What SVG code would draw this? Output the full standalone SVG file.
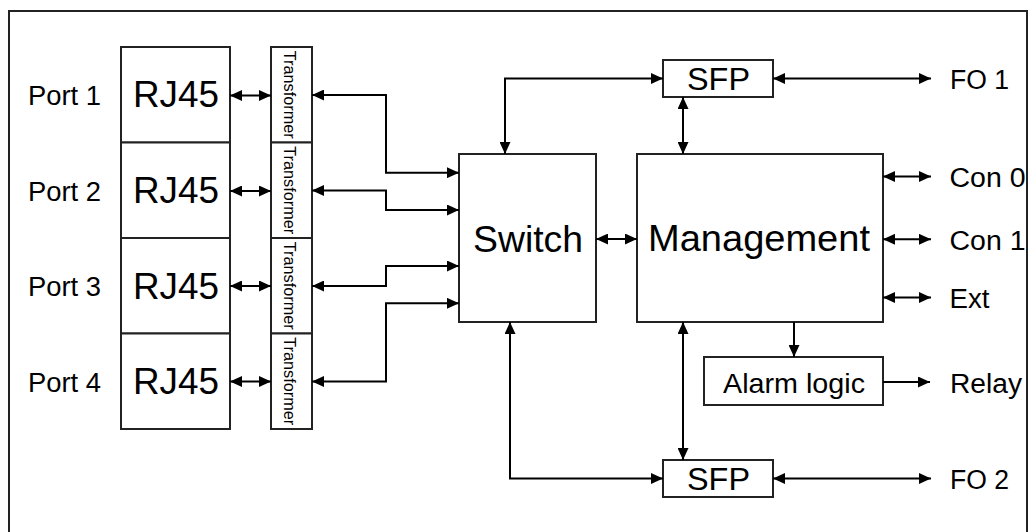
<svg xmlns="http://www.w3.org/2000/svg" width="1035" height="532" viewBox="0 0 1035 532">
<defs>
<marker id="ah" markerUnits="userSpaceOnUse" markerWidth="12" markerHeight="11" refX="12" refY="5.5" orient="auto-start-reverse" viewBox="0 0 12 11">
<path d="M0,0 L12,5.5 L0,11 z" fill="#000"/>
</marker>
<style>
.box{fill:#fff;stroke:#222;stroke-width:2}
.frame{fill:none;stroke:#222;stroke-width:2}
.t{font-family:"Liberation Sans",Arial,sans-serif;fill:#000}
.lbl{font-size:27px}
.big{font-size:36px}
.tr{font-size:16px}
.c{fill:none;stroke:#000;stroke-width:2}
.bi{marker-start:url(#ah);marker-end:url(#ah)}
.uni{marker-end:url(#ah)}
</style>
</defs>
<rect class="frame" x="9" y="11" width="1018" height="540"/>

<g id="port-labels">
<text class="t lbl" x="28" y="105" textLength="73" lengthAdjust="spacingAndGlyphs">Port 1</text>
<text class="t lbl" x="28" y="200.5" textLength="73" lengthAdjust="spacingAndGlyphs">Port 2</text>
<text class="t lbl" x="28" y="296" textLength="73" lengthAdjust="spacingAndGlyphs">Port 3</text>
<text class="t lbl" x="28" y="391.5" textLength="73" lengthAdjust="spacingAndGlyphs">Port 4</text>
</g>

<g id="rj45-1"><rect class="box" x="121" y="47" width="109" height="95.5"/><text class="t big" x="176" y="107" text-anchor="middle" textLength="86" lengthAdjust="spacingAndGlyphs">RJ45</text></g>
<g id="rj45-2"><rect class="box" x="121" y="142.5" width="109" height="95.5"/><text class="t big" x="176" y="203" text-anchor="middle" textLength="86" lengthAdjust="spacingAndGlyphs">RJ45</text></g>
<g id="rj45-3"><rect class="box" x="121" y="238" width="109" height="95.5"/><text class="t big" x="176" y="298.5" text-anchor="middle" textLength="86" lengthAdjust="spacingAndGlyphs">RJ45</text></g>
<g id="rj45-4"><rect class="box" x="121" y="333.5" width="109" height="95.5"/><text class="t big" x="176" y="394" text-anchor="middle" textLength="86" lengthAdjust="spacingAndGlyphs">RJ45</text></g>

<g id="transformer-1"><rect class="box" x="271" y="47" width="41" height="95.5"/><text class="t tr" transform="translate(283.5,94.75) rotate(90)" text-anchor="middle" textLength="88" lengthAdjust="spacingAndGlyphs">Transformer</text></g>
<g id="transformer-2"><rect class="box" x="271" y="142.5" width="41" height="95.5"/><text class="t tr" transform="translate(283.5,190.25) rotate(90)" text-anchor="middle" textLength="88" lengthAdjust="spacingAndGlyphs">Transformer</text></g>
<g id="transformer-3"><rect class="box" x="271" y="238" width="41" height="95.5"/><text class="t tr" transform="translate(283.5,285.75) rotate(90)" text-anchor="middle" textLength="88" lengthAdjust="spacingAndGlyphs">Transformer</text></g>
<g id="transformer-4"><rect class="box" x="271" y="333.5" width="41" height="95.5"/><text class="t tr" transform="translate(283.5,381.25) rotate(90)" text-anchor="middle" textLength="88" lengthAdjust="spacingAndGlyphs">Transformer</text></g>

<g id="switch"><rect class="box" x="459" y="154" width="137" height="168"/><text class="t big" x="528" y="251.5" text-anchor="middle" textLength="110" lengthAdjust="spacingAndGlyphs">Switch</text></g>
<g id="management"><rect class="box" x="637" y="154" width="246" height="168"/><text class="t big" x="759" y="251" text-anchor="middle" textLength="222" lengthAdjust="spacingAndGlyphs">Management</text></g>
<g id="sfp-1"><rect class="box" x="663" y="60" width="110" height="37"/><text class="t big" style="font-size:31px" x="718.5" y="90" text-anchor="middle" textLength="63" lengthAdjust="spacingAndGlyphs">SFP</text></g>
<g id="sfp-2"><rect class="box" x="663" y="460" width="110" height="37"/><text class="t big" style="font-size:31px" x="718.5" y="490" text-anchor="middle" textLength="63" lengthAdjust="spacingAndGlyphs">SFP</text></g>
<g id="alarm-logic"><rect class="box" x="704" y="357" width="179" height="48"/><text class="t lbl" style="font-size:28px" x="794" y="393" text-anchor="middle" textLength="142" lengthAdjust="spacingAndGlyphs">Alarm logic</text></g>

<g id="outputs">
<text class="t lbl" x="950" y="88.5" textLength="59" lengthAdjust="spacingAndGlyphs">FO 1</text>
<text class="t lbl" x="949.5" y="186.5" textLength="76" lengthAdjust="spacingAndGlyphs">Con 0</text>
<text class="t lbl" x="949.5" y="249.5" textLength="76" lengthAdjust="spacingAndGlyphs">Con 1</text>
<text class="t lbl" x="949.5" y="308" textLength="40" lengthAdjust="spacingAndGlyphs">Ext</text>
<text class="t lbl" x="950" y="393" textLength="72" lengthAdjust="spacingAndGlyphs">Relay</text>
<text class="t lbl" x="950" y="488.5" textLength="59" lengthAdjust="spacingAndGlyphs">FO 2</text>
</g>

<g id="connectors">
<path class="c bi" d="M230,95.5 H271"/>
<path class="c bi" d="M230,191 H271"/>
<path class="c bi" d="M230,286 H271"/>
<path class="c bi" d="M230,381.5 H271"/>
<path class="c bi" d="M312,95 H386 V172.7 H459"/>
<path class="c bi" d="M312,190.5 H386 V210 H459"/>
<path class="c bi" d="M312,286 H386 V266 H459"/>
<path class="c bi" d="M312,381.5 H386 V303.3 H459"/>
<path class="c bi" d="M505,154 V78.5 H663"/>
<path class="c bi" d="M510,322 V478.5 H663"/>
<path class="c bi" d="M596,239 H637"/>
<path class="c bi" d="M683,97 V154"/>
<path class="c bi" d="M683,322 V460"/>
<path class="c bi" d="M773,78.5 H931"/>
<path class="c bi" d="M773,478.5 H931"/>
<path class="c bi" d="M883,176.5 H931"/>
<path class="c bi" d="M883,239.3 H931"/>
<path class="c bi" d="M883,297.5 H931"/>
<path class="c uni" d="M794,322 V357"/>
<path class="c uni" d="M883,382 H930"/>
</g>
</svg>
